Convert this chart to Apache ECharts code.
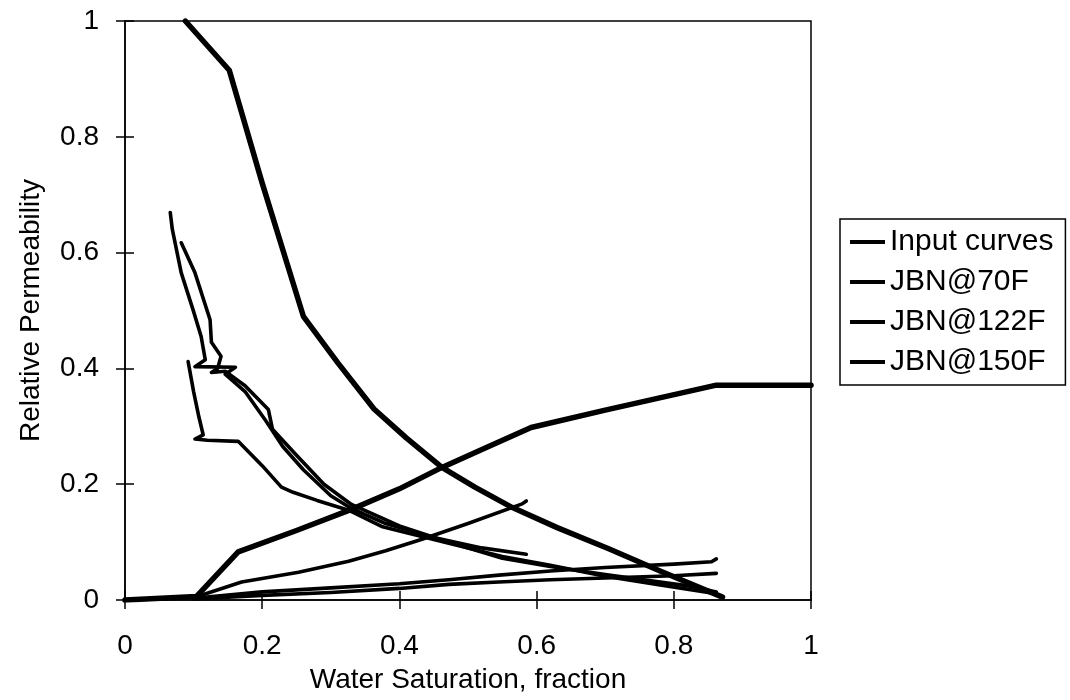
<!DOCTYPE html>
<html>
<head>
<meta charset="utf-8">
<script src="https://cdn.jsdelivr.net/npm/echarts@6/dist/echarts.min.js"></script>
<style>
  html, body { margin: 0; padding: 0; background: #fff; }
  #chart { width: 1070px; height: 700px; }
</style>
</head>
<body>
<div id="chart"></div>
<script>
// Relative permeability vs. water saturation: [Sw, kr] pairs
const inputKro = [[0.088,1.0],[0.152,0.915],[0.20,0.72],[0.26,0.49],[0.31,0.41],[0.363,0.33],[0.41,0.28],[0.462,0.229],[0.51,0.195],[0.564,0.16],[0.63,0.125],[0.706,0.088],[0.78,0.05],[0.871,0.005]];
const inputKrw = [[0.0,0.0],[0.104,0.006],[0.165,0.083],[0.25,0.12],[0.331,0.157],[0.40,0.192],[0.462,0.229],[0.53,0.265],[0.592,0.298],[0.70,0.328],[0.862,0.371],[1.0,0.371]];

const jbn70Kro = [[0.066,0.669],[0.069,0.64],[0.082,0.565],[0.099,0.502],[0.111,0.455],[0.117,0.415],[0.102,0.403],[0.161,0.402],[0.146,0.39],[0.175,0.36],[0.205,0.31],[0.23,0.265],[0.26,0.225],[0.30,0.18],[0.33,0.158],[0.38,0.132],[0.45,0.108],[0.52,0.09],[0.585,0.079]];
const jbn70Krw = [[0.10,0.004],[0.17,0.031],[0.253,0.048],[0.326,0.067],[0.38,0.085],[0.433,0.105],[0.50,0.132],[0.579,0.166],[0.585,0.171]];

const jbn122Kro = [[0.082,0.617],[0.102,0.565],[0.124,0.484],[0.126,0.445],[0.14,0.421],[0.135,0.40],[0.126,0.393],[0.146,0.395],[0.175,0.37],[0.209,0.329],[0.215,0.295],[0.25,0.25],[0.29,0.2],[0.33,0.165],[0.40,0.128],[0.472,0.1],[0.55,0.072],[0.62,0.058],[0.70,0.044],[0.823,0.024],[0.862,0.014]];
const jbn122Krw = [[0.10,0.003],[0.20,0.014],[0.30,0.021],[0.40,0.028],[0.472,0.035],[0.545,0.043],[0.62,0.05],[0.70,0.056],[0.80,0.062],[0.855,0.066],[0.862,0.071]];

const jbn150Kro = [[0.092,0.412],[0.10,0.36],[0.107,0.32],[0.114,0.285],[0.102,0.278],[0.12,0.276],[0.165,0.274],[0.20,0.232],[0.228,0.195],[0.245,0.186],[0.28,0.172],[0.326,0.155],[0.374,0.127],[0.472,0.098],[0.55,0.075],[0.62,0.06],[0.70,0.041],[0.78,0.026],[0.862,0.011]];
const jbn150Krw = [[0.10,0.002],[0.20,0.008],[0.30,0.013],[0.40,0.02],[0.472,0.027],[0.545,0.031],[0.62,0.035],[0.70,0.038],[0.80,0.042],[0.862,0.046]];

const legendNames = ['Input curves', 'JBN@70F', 'JBN@122F', 'JBN@150F'];
const xTicks = { min: 0, max: 1, interval: 0.2 };
const yTicks = { min: 0, max: 1, interval: 0.2 };

const FONT = 'Liberation Sans, Arial, sans-serif';
const fmt = v => (v === 0 ? '0' : v === 1 ? '1' : String(+v.toFixed(1)));

function curve(name, data, width) {
  return {
    name, type: 'line', data, symbol: 'none', showSymbol: false, smooth: false,
    xAxisIndex: 0, yAxisIndex: 0,
    lineStyle: { color: '#000', width, cap: 'round', join: 'round' },
    itemStyle: { color: '#000' },
    z: 3
  };
}

const gridRect = { left: 125, top: 21, right: 259, bottom: 100 };
const tickStyle = { color: '#000', width: 1.5 };

const chart = echarts.init(document.getElementById('chart'));
chart.setOption({
  animation: false,
  backgroundColor: '#fff',
  textStyle: { fontFamily: FONT, color: '#000' },
  grid: [
    Object.assign({ show: true, borderColor: '#000', borderWidth: 1.5, backgroundColor: 'transparent' }, gridRect),
    Object.assign({ show: false }, gridRect)
  ],
  xAxis: [
    {
      type: 'value', gridIndex: 0, min: xTicks.min, max: xTicks.max, interval: xTicks.interval,
      name: 'Water Saturation, fraction', nameLocation: 'middle', nameGap: 66,
      nameTextStyle: { fontSize: 28, color: '#000', fontFamily: FONT },
      axisLine: { show: true, lineStyle: tickStyle },
      axisTick: { show: true, inside: false, length: 9, lineStyle: tickStyle },
      axisLabel: { fontSize: 28, color: '#000', margin: 32, formatter: fmt, fontFamily: FONT },
      splitLine: { show: false }
    },
    {
      type: 'value', gridIndex: 1, min: xTicks.min, max: xTicks.max, interval: xTicks.interval,
      axisLine: { show: false },
      axisTick: { show: true, inside: true, length: 9, lineStyle: tickStyle },
      axisLabel: { show: false },
      splitLine: { show: false }
    }
  ],
  yAxis: [
    {
      type: 'value', gridIndex: 0, min: yTicks.min, max: yTicks.max, interval: yTicks.interval,
      name: 'Relative Permeability', nameLocation: 'middle', nameGap: 80,
      nameTextStyle: { fontSize: 28, color: '#000', fontFamily: FONT },
      axisLine: { show: true, lineStyle: tickStyle },
      axisTick: { show: true, inside: false, length: 9, lineStyle: tickStyle },
      axisLabel: { fontSize: 28, color: '#000', margin: 26, formatter: fmt, fontFamily: FONT },
      splitLine: { show: false }
    },
    {
      type: 'value', gridIndex: 1, min: yTicks.min, max: yTicks.max, interval: yTicks.interval,
      axisLine: { show: false },
      axisTick: { show: true, inside: true, length: 9, lineStyle: tickStyle },
      axisLabel: { show: false },
      splitLine: { show: false }
    }
  ],
  legend: {
    orient: 'vertical', left: 840, top: 219,
    padding: [8, 12, 8, 10],
    itemGap: 10, itemWidth: 35, itemHeight: 4,
    icon: 'rect',
    borderColor: '#000', borderWidth: 1.5, borderRadius: 0,
    backgroundColor: '#fff',
    textStyle: { fontSize: 30, color: '#000', fontFamily: FONT, lineHeight: 30 },
    data: legendNames
  },
  series: [
    curve(legendNames[0], inputKro, 5.5),
    curve(legendNames[0], inputKrw, 5.5),
    curve(legendNames[1], jbn70Kro, 3.6),
    curve(legendNames[1], jbn70Krw, 3.6),
    curve(legendNames[2], jbn122Kro, 3.6),
    curve(legendNames[2], jbn122Krw, 3.6),
    curve(legendNames[3], jbn150Kro, 3.6),
    curve(legendNames[3], jbn150Krw, 3.6)
  ]
});
</script>
</body>
</html>
